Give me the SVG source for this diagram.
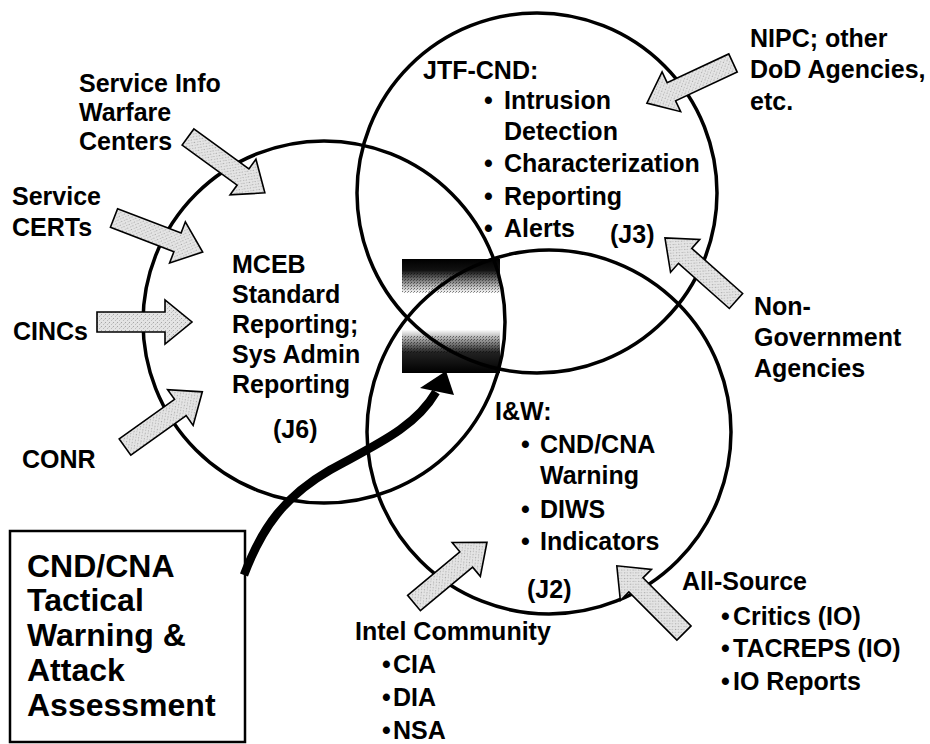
<svg xmlns="http://www.w3.org/2000/svg" xmlns:xlink="http://www.w3.org/1999/xlink" width="930" height="744" viewBox="0 0 930 744">
  <style>
    .ring { fill: none; stroke: #000; stroke-width: 3.5; }
    .t { font-family: "Liberation Sans", Arial, sans-serif; font-weight: bold; font-size: 25px; fill: #000; }
    .big { font-size: 32px; }
    .blk { fill: url(#stipple); stroke: #000; stroke-width: 1.6; stroke-linejoin: miter; }
    .flow { fill: none; stroke: #000; stroke-width: 8.5; stroke-linecap: butt; }
  </style>
  <defs>
    <!-- light grey stipple used inside the block arrows -->
    <pattern id="stipple" width="4" height="4" patternUnits="userSpaceOnUse">
      <rect width="4" height="4" fill="#e4e4e4"/>
      <rect x="0" y="0" width="1" height="1" fill="#a6a6a6"/>
      <rect x="2" y="2" width="1" height="1" fill="#bcbcbc"/>
      <rect x="3" y="1" width="1" height="1" fill="#cfcfcf"/>
    </pattern>
    <!-- coarse dither for the shaded patch -->
    <pattern id="dither" width="3" height="3" patternUnits="userSpaceOnUse">
      <rect width="3" height="3" fill="#fff" fill-opacity="0"/>
      <rect x="0" y="0" width="1" height="1" fill="#000" fill-opacity="0.5"/>
      <rect x="2" y="1" width="1" height="1" fill="#000" fill-opacity="0.35"/>
    </pattern>
    <!-- shaded overlap patch: dark at top and bottom, white in the middle -->
    <linearGradient id="patch" x1="0" y1="0" x2="0" y2="1">
      <stop offset="0" stop-color="#000"/>
      <stop offset="0.1" stop-color="#111"/>
      <stop offset="0.3" stop-color="#fff"/>
      <stop offset="0.62" stop-color="#fff"/>
      <stop offset="0.82" stop-color="#222"/>
      <stop offset="1" stop-color="#000"/>
    </linearGradient>
    <!-- block arrow pointing along +x, tail at the origin -->
    <polygon id="blockArrow" points="0,-10 68,-10 68,-22 95,0 68,22 68,10 0,10"/>
  </defs>

  <rect width="930" height="744" fill="#fff"/>

  <!-- shaded patch where the three areas meet -->
  <g id="overlap-patch">
    <rect x="402" y="259" width="98" height="114" fill="url(#patch)"/>
    <rect x="402" y="272" width="98" height="22" fill="url(#dither)"/>
    <rect x="402" y="336" width="98" height="18" fill="url(#dither)"/>
  </g>

  <g id="j6-circle">
    <circle class="ring" cx="324" cy="322" r="181"/>
    <text class="t" x="232" y="273">MCEB</text>
    <text class="t" x="232" y="303">Standard</text>
    <text class="t" x="232" y="333">Reporting;</text>
    <text class="t" x="232" y="363">Sys Admin</text>
    <text class="t" x="232" y="393">Reporting</text>
    <text class="t" x="273" y="438">(J6)</text>
  </g>

  <g id="jtf-cnd-circle">
    <circle class="ring" cx="537" cy="193" r="180"/>
    <text class="t" x="423" y="79">JTF-CND:</text>
    <text class="t" x="484" y="109">•</text>
    <text class="t" x="504" y="109">Intrusion</text>
    <text class="t" x="504" y="140">Detection</text>
    <text class="t" x="484" y="172">•</text>
    <text class="t" x="504" y="172">Characterization</text>
    <text class="t" x="484" y="205">•</text>
    <text class="t" x="504" y="205">Reporting</text>
    <text class="t" x="484" y="237">•</text>
    <text class="t" x="504" y="237">Alerts</text>
    <text class="t" x="610" y="243">(J3)</text>
  </g>

  <g id="iw-circle">
    <circle class="ring" cx="549" cy="432" r="182"/>
    <text class="t" x="495" y="420">I&amp;W:</text>
    <text class="t" x="521" y="453">•</text>
    <text class="t" x="540" y="453">CND/CNA</text>
    <text class="t" x="540" y="484">Warning</text>
    <text class="t" x="521" y="518">•</text>
    <text class="t" x="540" y="518">DIWS</text>
    <text class="t" x="521" y="550">•</text>
    <text class="t" x="540" y="550">Indicators</text>
    <text class="t" x="527" y="598">(J2)</text>
  </g>

  <g id="service-iw-centers">
    <text class="t" x="79" y="92">Service Info</text>
    <text class="t" x="79" y="121">Warfare</text>
    <text class="t" x="79" y="150">Centers</text>
  </g>
  <g id="service-certs">
    <text class="t" x="12" y="205">Service</text>
    <text class="t" x="12" y="236">CERTs</text>
  </g>
  <g id="cincs">
    <text class="t" x="13" y="340">CINCs</text>
  </g>
  <g id="conr">
    <text class="t" x="22" y="468">CONR</text>
  </g>
  <g id="nipc">
    <text class="t" x="750" y="47">NIPC; other</text>
    <text class="t" x="750" y="78">DoD Agencies,</text>
    <text class="t" x="750" y="110">etc.</text>
  </g>
  <g id="non-government">
    <text class="t" x="754" y="315">Non-</text>
    <text class="t" x="754" y="346">Government</text>
    <text class="t" x="754" y="377">Agencies</text>
  </g>
  <g id="intel-community">
    <text class="t" x="355" y="640">Intel Community</text>
    <text class="t" x="382" y="673">•</text>
    <text class="t" x="393" y="673">CIA</text>
    <text class="t" x="382" y="706">•</text>
    <text class="t" x="393" y="706">DIA</text>
    <text class="t" x="382" y="739">•</text>
    <text class="t" x="393" y="739">NSA</text>
  </g>
  <g id="all-source">
    <text class="t" x="682" y="590">All-Source</text>
    <text class="t" x="721" y="625">•</text>
    <text class="t" x="733" y="625">Critics (IO)</text>
    <text class="t" x="721" y="657">•</text>
    <text class="t" x="733" y="657">TACREPS (IO)</text>
    <text class="t" x="721" y="690">•</text>
    <text class="t" x="733" y="690">IO Reports</text>
  </g>

  <g id="tactical-warning">
    <rect x="10" y="531" width="235" height="211" fill="#fff" stroke="#000" stroke-width="2.5"/>
    <text class="t big" x="27" y="577">CND/CNA</text>
    <text class="t big" x="27" y="611">Tactical</text>
    <text class="t big" x="27" y="646">Warning &amp;</text>
    <text class="t big" x="27" y="681">Attack</text>
    <text class="t big" x="27" y="716">Assessment</text>
  </g>

  <g id="connectors">
    <use href="#blockArrow" class="blk" transform="translate(188,137) rotate(36)"/>
    <use href="#blockArrow" class="blk" transform="translate(114,218) rotate(21)"/>
    <use href="#blockArrow" class="blk" transform="translate(97,322)"/>
    <use href="#blockArrow" class="blk" transform="translate(125,447) rotate(-35.5)"/>
    <use href="#blockArrow" class="blk" transform="translate(733,63) rotate(155)"/>
    <use href="#blockArrow" class="blk" transform="translate(736,301) rotate(221.6)"/>
    <use href="#blockArrow" class="blk" transform="translate(414,603) rotate(-39.8)"/>
    <use href="#blockArrow" class="blk" transform="translate(684,633) rotate(225)"/>
    <!-- heavy curved arrow from the tactical warning box into the overlap -->
    <path class="flow" d="M244,575 C262,527 285,496 330,470 C375,445 415,428 436,392"/>
    <polygon points="446,371 420,388 454,395" fill="#000"/>
  </g>
</svg>
